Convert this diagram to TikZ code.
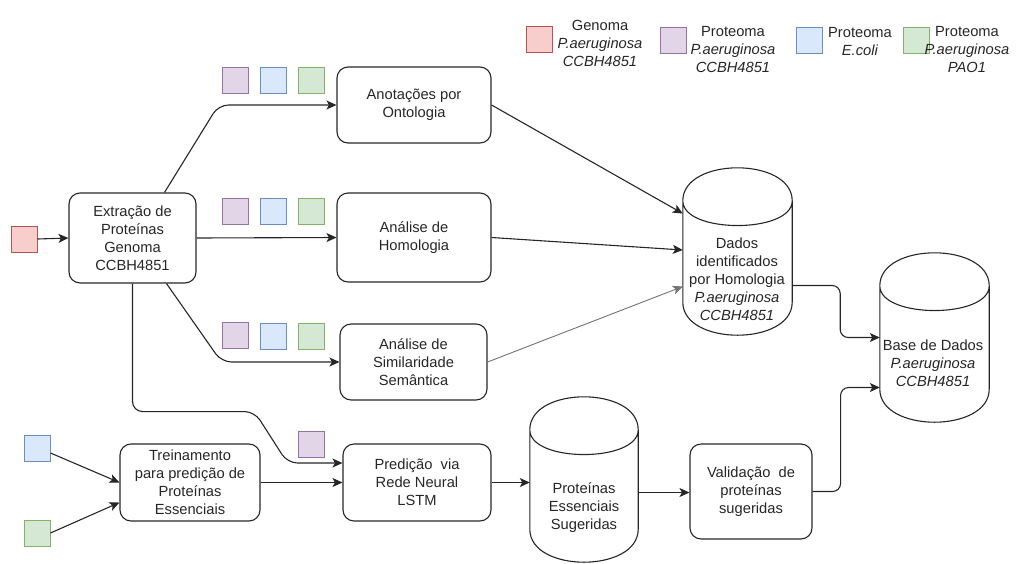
\documentclass[tikz,border=0pt]{standalone}
\usepackage{fontspec}
\setmainfont{Liberation Sans}
\usetikzlibrary{arrows.meta,calc}

\definecolor{txt}{HTML}{262626}
\definecolor{redF}{HTML}{F8CECC}\definecolor{redD}{HTML}{B85450}
\definecolor{purF}{HTML}{E1D5E7}\definecolor{purD}{HTML}{9673A6}
\definecolor{bluF}{HTML}{DAE8FC}\definecolor{bluD}{HTML}{6C8EBF}
\definecolor{greF}{HTML}{D5E8D4}\definecolor{greD}{HTML}{82B366}

\tikzset{
  every node/.style={font=\fontsize{14.7}{18}\selectfont, text=txt},
  procbox/.style={draw=black!85, line width=1.1pt, rounded corners=11pt, align=center, inner sep=0pt},
  cylbox/.style={draw=none, inner sep=0pt},
  cyltext/.style={align=center, inner sep=0pt},
  legtext/.style={align=center, inner sep=0pt},
  sq/.style={minimum size=26pt, inner sep=0pt, line width=1pt},
  sqred/.style={sq, fill=redF, draw=redD},
  sqpur/.style={sq, fill=purF, draw=purD},
  sqblu/.style={sq, fill=bluF, draw=bluD},
  sqgre/.style={sq, fill=greF, draw=greD},
  cylline/.style={draw=black!85, line width=1.1pt, fill=white},
  conn/.style={draw=black!85, line width=1.1pt, rounded corners=10pt,
               -{Stealth[length=10pt,width=9pt,inset=2.5pt]}},
  connlight/.style={conn, draw=black!55, line width=0.9pt},
}

% draws a vertical cylinder filling the given node, top/bottom depth #2 (pt)
\newcommand{\drawcylinder}[2]{%
  \draw[cylline] let \p1=(#1.north west), \p2=(#1.south east) in
    (\x1,{\y1-#2pt}) .. controls (\x1,{\y1+#2pt/3}) and (\x2,{\y1+#2pt/3}) .. (\x2,{\y1-#2pt})
    -- (\x2,{\y2+#2pt}) .. controls (\x2,{\y2-#2pt/3}) and (\x1,{\y2-#2pt/3}) .. (\x1,{\y2+#2pt}) -- cycle
    (\x1,{\y1-#2pt}) .. controls (\x1,{\y1-2*#2pt}) and (\x2,{\y1-2*#2pt}) .. (\x2,{\y1-#2pt});
}

\begin{document}
\begin{tikzpicture}[x=1pt,y=-1pt]
\useasboundingbox (0,0) rectangle (1033,563);

% legend
\node[sqred] (lgred) at (539,39.5) {};
\node[legtext] (lgredT) at (600,43) {Genoma\\\textit{P.aeruginosa}\\\textit{CCBH4851}};
\node[sqpur] (lgpur) at (673.5,40.5) {};
\node[legtext] (lgpurT) at (733,50) {Proteoma\\\textit{P.aeruginosa}\\\textit{CCBH4851}};
\node[sqblu] (lgblu) at (809,40.5) {};
\node[legtext] (lgbluT) at (860,42) {Proteoma\\\textit{E.coli}};
\node[sqgre] (lggre) at (916.5,40.5) {};
\node[legtext] (lggreT) at (967,50) {Proteoma\\\textit{P.aeruginosa}\\\textit{PAO1}};

% process boxes
\node[procbox, minimum width=127pt, minimum height=90pt] (ext) at (132.5,238) {Extração de\\Proteínas\\Genoma\\CCBH4851};
\node[procbox, minimum width=154pt, minimum height=76pt] (ano) at (414,105) {Anotações por\\Ontologia};
\node[procbox, minimum width=154pt, minimum height=89pt] (hom) at (414,237.5) {Análise de\\Homologia};
\node[procbox, minimum width=147pt, minimum height=76pt] (sim) at (413.5,362) {Análise de\\Similaridade\\Semântica};
\node[procbox, minimum width=140pt, minimum height=77pt] (trein) at (190,482.5) {Treinamento\\para predição de\\Proteínas\\Essenciais};
\node[procbox, minimum width=148pt, minimum height=77pt] (pred) at (417,482.5) {Predição\ \ via\\Rede Neural\\LSTM};
\node[procbox, minimum width=122pt, minimum height=95pt] (val) at (751,491.5) {Validação\ \ de\\proteínas\\sugeridas};

% input squares
\node[sqred] (inred) at (24,239) {};
\node[sqpur] (anoP) at (235,80) {};
\node[sqblu] (anoB) at (273,80) {};
\node[sqgre] (anoG) at (311.5,80) {};
\node[sqpur] (homP) at (235,211.5) {};
\node[sqblu] (homB) at (273,211.5) {};
\node[sqgre] (homG) at (311.5,211.5) {};
\node[sqpur] (simP) at (235,335) {};
\node[sqblu] (simB) at (273,336.5) {};
\node[sqgre] (simG) at (311.5,336.5) {};
\node[sqpur] (predP) at (311.5,444) {};
\node[sqblu] (trB) at (37,448.5) {};
\node[sqgre] (trG) at (37,533) {};

% databases
\node[cylbox, minimum width=109pt, minimum height=167pt] (dados) at (737.5,251.5) {};
\drawcylinder{dados}{33}
\node[cyltext] (dadosT) at (737,279) {Dados\\identificados\\por Homologia\\\textit{P.aeruginosa}\\\textit{CCBH4851}};
\node[cylbox, minimum width=109pt, minimum height=169pt] (base) at (934.5,337.5) {};
\drawcylinder{base}{33}
\node[cyltext] (baseT) at (933,363) {Base de Dados\\\textit{P.aeruginosa}\\\textit{CCBH4851}};
\node[cylbox, minimum width=108pt, minimum height=165pt] (prot) at (584,479.5) {};
\drawcylinder{prot}{33}
\node[cyltext] (protT) at (584,508) {Proteínas\\Essenciais\\Sugeridas};

% connectors
\draw[conn] (inred.east) -- (ext.west);
\draw[conn] ([xshift=32pt]ext.north) -- ([xshift=-118pt]ano.west) -- (ano.west);
\draw[conn] (ext.east) -- (hom.west);
\draw[conn] ([xshift=34pt]ext.south) -- ([xshift=-118pt]sim.west) -- (sim.west);
\draw[conn] (ext.south) -- ++(0,128) -- ++(122,0) -- ([xshift=-55pt,yshift=19.5pt]pred.west) -- ([yshift=19.5pt]pred.west);
\draw[conn] ([yshift=-4.5pt]trB.east) -- (trein.west);
\draw[conn] (trG.east) -- ([yshift=-20pt]trein.west);
\draw[conn] (trein.east) -- (pred.west);
\draw[conn] (pred.east) -- (pred.east -| prot.west);
\draw[conn] ([yshift=-13pt]prot.east) -- ([yshift=-13pt]prot.east -| val.west);
\draw[conn] (ano.east) -- ([yshift=38pt]dados.west);
\draw[conn] (hom.east) -- ([yshift=1.5pt]dados.west);
\draw[connlight] (sim.east) -- ([yshift=-35pt]dados.west);
\draw[conn, rounded corners=8pt] ([yshift=-34pt]dados.east) -- ++(48,0) |- (base.west);
\draw[conn, rounded corners=8pt] (val.east) -- ++(28,0) |- ([yshift=-50pt]base.west);
\end{tikzpicture}
\end{document}
